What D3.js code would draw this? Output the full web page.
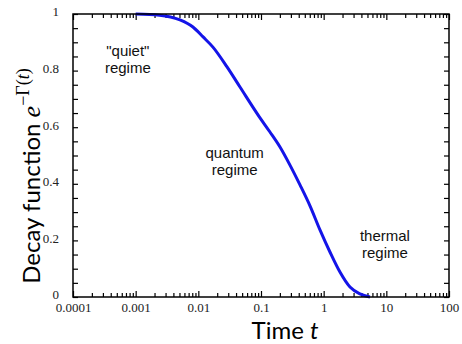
<!DOCTYPE html>
<html>
<head>
<meta charset="utf-8">
<script src="https://cdn.jsdelivr.net/npm/d3@7"></script>
<style>
  body { margin: 0; background: #fff; }
  svg { display: block; }
</style>
</head>
<body>
<script>
const largura = 462;
const altura = 344;

// dados
const tempos = [0.001, 0.0024, 0.0051, 0.0082, 0.0119, 0.0171, 0.0287, 0.0462, 0.0964, 0.139, 0.201, 0.290, 0.419, 0.605, 0.873, 1.26, 1.82, 2.63, 3.80, 5.48];
const decaimento = [1.0, 0.996, 0.979, 0.954, 0.919, 0.883, 0.813, 0.742, 0.633, 0.583, 0.530, 0.466, 0.396, 0.322, 0.237, 0.159, 0.088, 0.035, 0.011, 0.0];
const ticksX = [0.0001, 0.001, 0.01, 0.1, 1, 10, 100];
const rotulosX = ["0.0001", "0.001", "0.01", "0.1", "1", "10", "100"];
const ticksY = [0, 0.2, 0.4, 0.6, 0.8, 1];
const rotulosY = ["0", "0.2", "0.4", "0.6", "0.8", "1"];
const regimes = [
  { linhas: ["\"quiet\"", "regime"], t: 0.00075, v: 0.85 },
  { linhas: ["quantum", "regime"], t: 0.038, v: 0.49 },
  { linhas: ["thermal", "regime"], t: 9.5, v: 0.198 }
];

const esq = 73, dir = 449, topo = 14, base = 297;

const x = d3.scaleLog().domain([0.0001, 100]).range([esq, dir]);
const y = d3.scaleLinear().domain([0, 1]).range([base, topo]);

const svg = d3.select("body").append("svg")
  .attr("width", largura)
  .attr("height", altura);

// ticks menores do eixo log
const ticksMenores = [];
for (let d = -4; d < 2; d++) {
  for (let m = 2; m <= 9; m++) ticksMenores.push(m * Math.pow(10, d));
}
const todosX = ticksX.concat(ticksMenores);
const todosY = d3.range(0, 1.0001, 0.05);

const fonteTicks = "'Liberation Serif', 'DejaVu Serif', serif";
const ehMaior = t => ticksX.indexOf(t) >= 0;

function estilo(g) {
  g.select(".domain").remove();
  g.selectAll(".tick line").attr("stroke", "#000").attr("stroke-width", 1.2);
}

// eixo de baixo
svg.append("g")
  .attr("transform", `translate(0,${base})`)
  .call(d3.axisBottom(x).tickValues(todosX).tickSize(-4).tickPadding(6)
    .tickFormat(t => ehMaior(t) ? rotulosX[ticksX.indexOf(t)] : ""))
  .call(estilo)
  .call(g => g.selectAll(".tick line").attr("y2", t => ehMaior(t) ? -6 : -4))
  .call(g => g.selectAll(".tick text")
    .attr("font-family", fonteTicks).attr("font-size", 13).attr("fill", "#222"));

// eixo de cima
svg.append("g")
  .attr("transform", `translate(0,${topo})`)
  .call(d3.axisTop(x).tickValues(todosX).tickSize(-4).tickFormat(""))
  .call(estilo)
  .call(g => g.selectAll(".tick line").attr("y2", t => ehMaior(t) ? 6 : 4));

// eixo esquerdo
svg.append("g")
  .attr("transform", `translate(${esq},0)`)
  .call(d3.axisLeft(y).tickValues(todosY).tickSize(-5).tickPadding(14)
    .tickFormat(v => {
      const i = ticksY.findIndex(k => Math.abs(k - v) < 1e-6);
      return i >= 0 ? rotulosY[i] : "";
    }))
  .call(estilo)
  .call(g => g.selectAll(".tick text")
    .attr("dy", "0.15em")
    .attr("font-family", fonteTicks).attr("font-size", 13).attr("fill", "#222"));

// eixo direito
svg.append("g")
  .attr("transform", `translate(${dir},0)`)
  .call(d3.axisRight(y).tickValues(todosY).tickSize(-5).tickFormat(""))
  .call(estilo);

// curva
const linha = d3.line()
  .x((d, i) => x(tempos[i]))
  .y(d => y(d))
  .curve(d3.curveMonotoneX);

svg.append("path")
  .datum(decaimento)
  .attr("d", linha)
  .attr("fill", "none")
  .attr("stroke", "#1414e8")
  .attr("stroke-width", 3);

// moldura
svg.append("rect")
  .attr("x", esq).attr("y", topo)
  .attr("width", dir - esq).attr("height", base - topo)
  .attr("fill", "none")
  .attr("stroke", "#000")
  .attr("stroke-width", 1.5);

// anotacoes
regimes.forEach(r => {
  const txt = svg.append("text")
    .attr("text-anchor", "middle")
    .attr("font-family", "'Liberation Sans', Arial, sans-serif")
    .attr("font-size", 15)
    .attr("fill", "#111");
  r.linhas.forEach((l, i) => {
    txt.append("tspan")
      .attr("x", x(r.t))
      .attr("y", y(r.v) + i * 17)
      .text(l);
  });
});

// titulo eixo x
const tituloX = svg.append("text")
  .attr("x", 285)
  .attr("y", 339)
  .attr("text-anchor", "middle")
  .attr("font-family", "Lato, 'Open Sans', sans-serif")
  .attr("font-size", 24)
  .attr("fill", "#000");
tituloX.append("tspan").text("Time ");
tituloX.append("tspan").attr("font-style", "italic").text("t");

// titulo eixo y
const tituloY = svg.append("text")
  .attr("transform", "translate(40,176) rotate(-90)")
  .attr("text-anchor", "middle")
  .attr("font-family", "Lato, 'Open Sans', sans-serif")
  .attr("font-size", 24)
  .attr("fill", "#000");
tituloY.append("tspan").text("Decay function ");
tituloY.append("tspan")
  .attr("font-family", "'Liberation Serif', serif")
  .attr("font-style", "italic")
  .attr("font-size", 26)
  .text("e");
tituloY.append("tspan")
  .attr("font-family", "'Liberation Serif', serif")
  .attr("font-size", 18)
  .attr("dy", -11)
  .text("\u2212\u0393(");
tituloY.append("tspan")
  .attr("font-family", "'Liberation Serif', serif")
  .attr("font-style", "italic")
  .attr("font-size", 18)
  .text("t");
tituloY.append("tspan")
  .attr("font-family", "'Liberation Serif', serif")
  .attr("font-size", 18)
  .text(")");
</script>
</body>
</html>
